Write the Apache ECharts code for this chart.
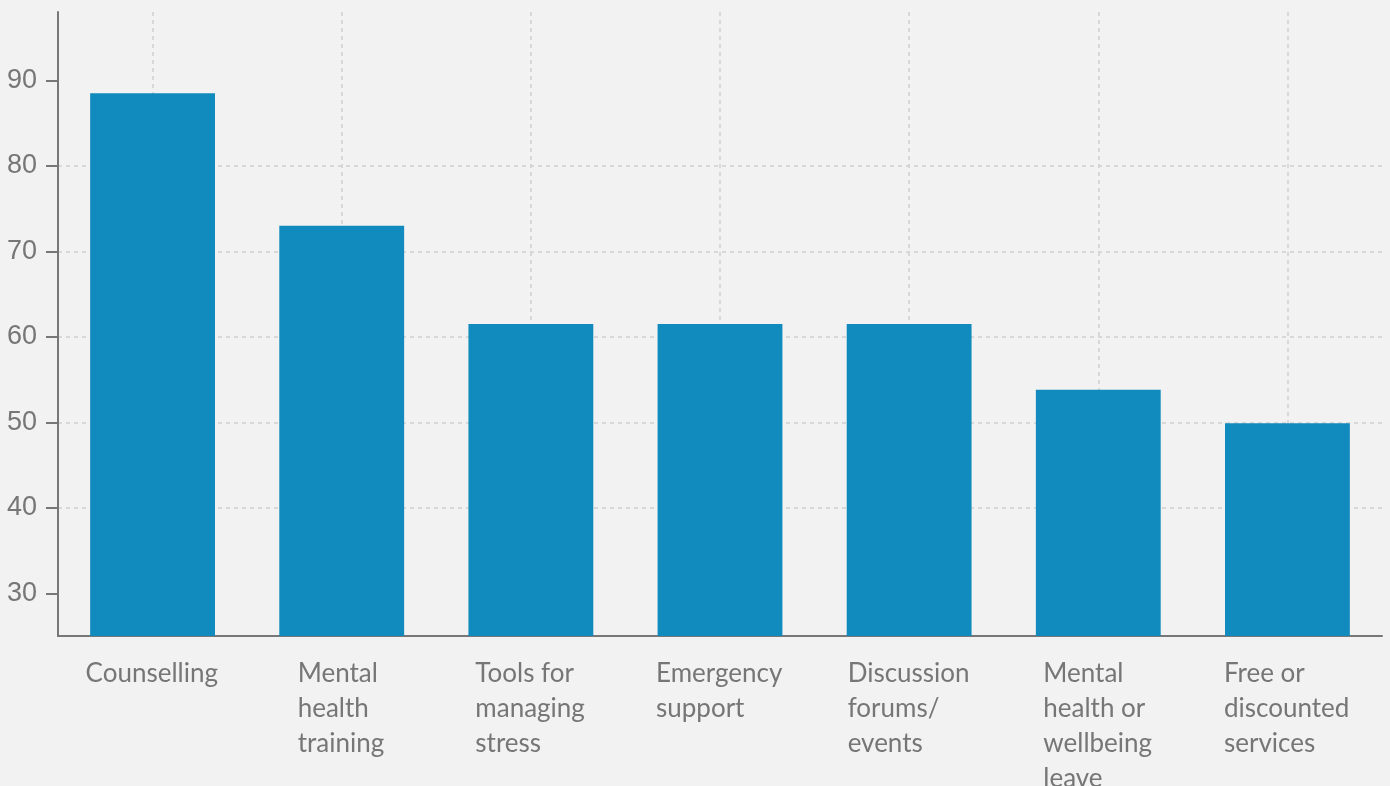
<!DOCTYPE html>
<html>
<head>
<meta charset="utf-8">
<script src="https://cdn.jsdelivr.net/npm/echarts@6/dist/echarts.min.js"></script>
<style>
html,body{margin:0;padding:0;background:#f2f2f2;}
#chart{width:1390px;height:786px;}
</style>
</head>
<body>
<div id="chart"></div>
<script>
const categories = [
  "Counselling",
  "Mental\nhealth\ntraining",
  "Tools for\nmanaging\nstress",
  "Emergency\nsupport",
  "Discussion\nforums/\nevents",
  "Mental\nhealth or\nwellbeing\nleave",
  "Free or\ndiscounted\nservices"
];
const values = [88.5, 73.0, 61.5, 61.5, 61.5, 53.8, 49.9];
const yTicks = [30, 40, 50, 60, 70, 80, 90];
const yMin = 25, yMax = 98;

const labelFont = 'Lato';
const labelSize = 26;
const ctx = document.createElement('canvas').getContext('2d');
ctx.font = labelSize + 'px ' + labelFont;
const rich = {};
categories.forEach((c, i) => {
  const w = Math.max(...c.split('\n').map(s => ctx.measureText(s).width));
  rich['r' + i] = {width: Math.ceil(w) + 1, align: 'left', fontFamily: labelFont, fontSize: labelSize, lineHeight: 35, color: '#767676'};
});

const chart = echarts.init(document.getElementById('chart'));
chart.setOption({
  backgroundColor: '#f2f2f2',
  animation: false,
  grid: {left: 58, right: 8, top: 12, bottom: 150, containLabel: false, outerBoundsMode: 'none'},
  xAxis: {
    type: 'category',
    data: categories,
    axisLine: {lineStyle: {color: '#777', width: 2}},
    axisTick: {alignWithLabel: true, length: 10, lineStyle: {color: '#777', width: 2}},
    splitLine: {show: true, alignWithLabel: true, lineStyle: {color: '#cfcfcf', type: [4, 4], width: 1.5}},
    axisLabel: {
      interval: 0,
      margin: 20,
      formatter: (v, i) => v.split('\n').map(s => '{r' + i + '|' + s + '}').join('\n'),
      rich: rich
    }
  },
  yAxis: {
    type: 'value',
    min: yMin,
    max: yMax,
    axisLine: {show: true, lineStyle: {color: '#777', width: 2}},
    axisTick: {show: true, length: 12, customValues: yTicks, lineStyle: {color: '#777', width: 2}},
    axisLabel: {customValues: yTicks, margin: 21, fontFamily: 'Liberation Sans', fontSize: 27, color: '#767676'},
    splitLine: {show: true, showMinLine: false, showMaxLine: false, lineStyle: {color: '#cfcfcf', type: [4, 4], width: 1.5}}
  },
  series: [{
    type: 'bar',
    data: values,
    barCategoryGap: '34%',
    itemStyle: {color: '#118abd'}
  }]
});
</script>
</body>
</html>
